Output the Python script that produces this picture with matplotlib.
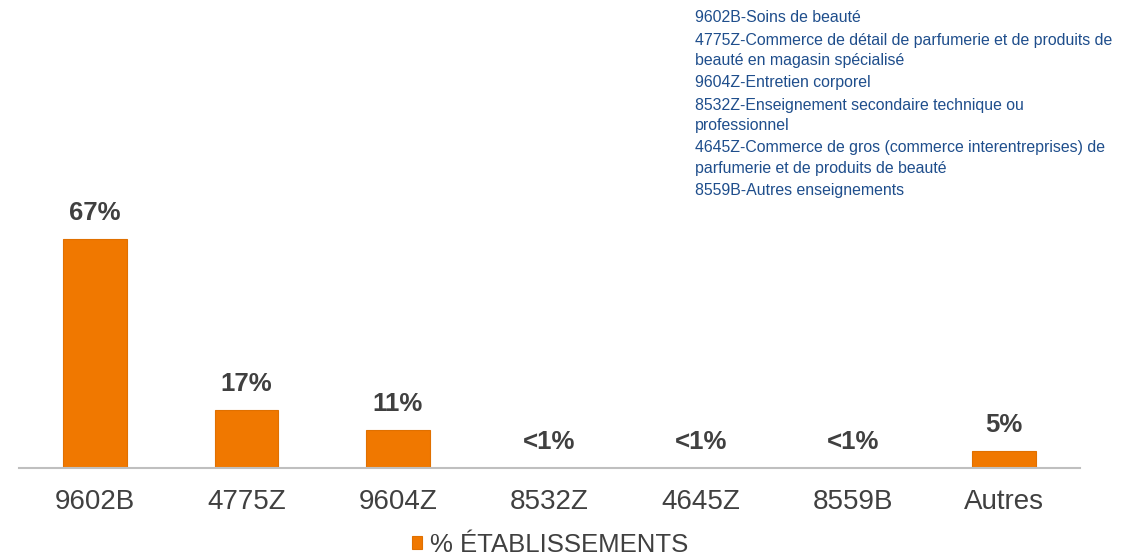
import matplotlib.pyplot as plt

plt.rcParams['font.family'] = ['Liberation Sans', 'DejaVu Sans']

categories = ["9602B", "4775Z", "9604Z", "8532Z", "4645Z", "8559B", "Autres"]
values = [67, 17, 11, 0.1, 0.1, 0.1, 5]
value_labels = ["67%", "17%", "11%", "<1%", "<1%", "<1%", "5%"]
legend_label = "% ÉTABLISSEMENTS"
notes = [
    ["9602B-Soins de beauté"],
    ["4775Z-Commerce de détail de parfumerie et de produits de",
     "beauté en magasin spécialisé"],
    ["9604Z-Entretien corporel"],
    ["8532Z-Enseignement secondaire technique ou",
     "professionnel"],
    ["4645Z-Commerce de gros (commerce interentreprises) de",
     "parfumerie et de produits de beauté"],
    ["8559B-Autres enseignements"],
]

orange = "#F07800"
grey = "#404040"
blue = "#1F4E8C"

fig = plt.figure(figsize=(11.22, 5.57), dpi=100)
ax = fig.add_axes([0.017, 0.16, 0.9455, 0.491])

x = range(len(categories))
bars = ax.bar(x, values, width=0.42, color=orange, edgecolor="#E07000", linewidth=0.8,
              label=legend_label)

for xi, v, lab in zip(x, values, value_labels):
    ax.annotate(lab, (xi, v), xytext=(0, 10), textcoords="offset points",
                ha="center", va="bottom", fontsize=18.5, fontweight="bold", color=grey)

ax.set_xlim(-0.5, len(categories) - 0.5)
ax.set_ylim(0, 80)
ax.set_yticks([])
ax.set_xticks(list(x))
ax.set_xticklabels(categories, fontsize=20, color=grey)
ax.tick_params(axis="x", length=0, pad=15)
for side in ["top", "right", "left"]:
    ax.spines[side].set_visible(False)
ax.spines["bottom"].set_color("#BFBFBF")
ax.spines["bottom"].set_linewidth(1.5)

leg = fig.legend(handles=[bars], labels=[legend_label], loc="center",
                 bbox_to_anchor=(0.49, 0.022), frameon=False, fontsize=18.5,
                 handlelength=0.4, handleheight=0.4, handletextpad=0.3)
for t in leg.get_texts():
    t.set_color(grey)

# notes block, top right
y = -4.5
for group in notes:
    for i, line in enumerate(group):
        y += 22.5 if i == 0 else 20
        fig.text(695 / 1122, 1 - y / 557, line, fontsize=11.4, color=blue,
                 ha="left", va="center")

fig.savefig("out.png", dpi=100)
